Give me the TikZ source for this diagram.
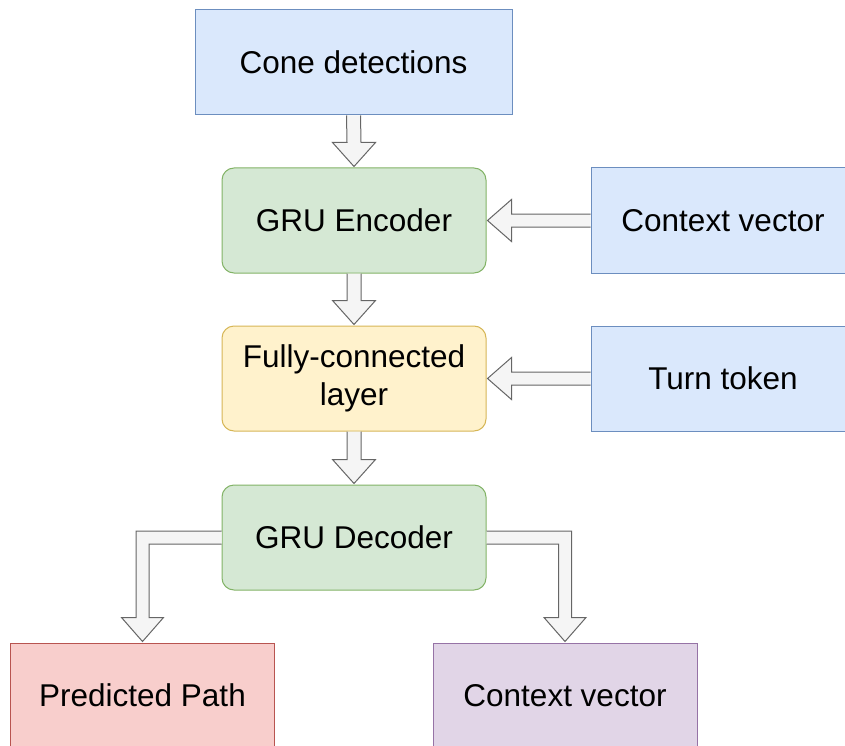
\documentclass[tikz,border=0pt]{standalone}
\usepackage{fontspec}
\setmainfont{Liberation Sans}
\usetikzlibrary{calc}
\definecolor{bluefill}{HTML}{DAE8FC}\definecolor{bluedraw}{HTML}{6C8EBF}
\definecolor{greenfill}{HTML}{D5E8D4}\definecolor{greendraw}{HTML}{82B366}
\definecolor{yellowfill}{HTML}{FFF2CC}\definecolor{yellowdraw}{HTML}{D6B656}
\definecolor{redfill}{HTML}{F8CECC}\definecolor{reddraw}{HTML}{B85450}
\definecolor{purplefill}{HTML}{E1D5E7}\definecolor{purpledraw}{HTML}{9673A6}
\definecolor{arrowfill}{HTML}{F5F5F5}\definecolor{arrowdraw}{HTML}{666666}
\tikzset{
  box/.style={rectangle, minimum width=264pt, minimum height=105pt, inner sep=0pt, line width=1pt,
    align=center, font=\fontsize{31.5}{37.5}\selectfont},
  bluebox/.style={box, fill=bluefill, draw=bluedraw},
  greenbox/.style={box, fill=greenfill, draw=greendraw, rounded corners=12pt},
  yellowbox/.style={box, fill=yellowfill, draw=yellowdraw, rounded corners=12pt},
  redbox/.style={box, fill=redfill, draw=reddraw},
  purplebox/.style={box, fill=purplefill, draw=purpledraw},
  flex/.style={fill=arrowfill, draw=arrowdraw, line width=1pt, line join=miter}
}
\begin{document}
\begin{tikzpicture}[x=1pt,y=-1pt]
\useasboundingbox (0,0) rectangle (845,746);
\clip (0,0) rectangle (845,746);
\node[bluebox, minimum width=317pt] (cone) at (353.5,62.5) {Cone detections};
\node[greenbox] (enc) at (354,220.5) {GRU Encoder};
\node[bluebox] (ctx) at (723,220.5) {Context vector};
\node[yellowbox] (fc) at (354,378.5) {Fully-connected\\layer};
\node[bluebox] (turn) at (723,378.5) {Turn token};
\node[greenbox] (dec) at (354,537.5) {GRU Decoder};
\node[redbox] (pred) at (142.5,695.5) {Predicted Path};
\node[purplebox] (ctxout) at (565,695.5) {Context vector};
% vertical arrows
\foreach \a/\b in {cone/enc, enc/fc, fc/dec}{
  \filldraw[flex] ($(\a.south)+(-7,0)$) -- ($(\b.north)+(-7,-25)$) -- ($(\b.north)+(-21.5,-25)$)
    -- ($(\b.north)+(0,-1)$) -- ($(\b.north)+(21.5,-25)$) -- ($(\b.north)+(7,-25)$) -- ($(\a.south)+(7,0)$);
}
% horizontal arrows
\foreach \a/\b in {ctx/enc, turn/fc}{
  \filldraw[flex] ($(\a.west)+(0,-6.5)$) -- ($(\b.east)+(25,-6.5)$) -- ($(\b.east)+(25,-21)$)
    -- ($(\b.east)+(1,0)$) -- ($(\b.east)+(25,21)$) -- ($(\b.east)+(25,6.5)$) -- ($(\a.west)+(0,6.5)$);
}
% bent arrows
\coordinate (dlt) at ($(dec.west)+(0,-6.5)$);
\coordinate (dlb) at ($(dec.west)+(0,6.5)$);
\coordinate (drt) at ($(dec.east)+(0,-6.5)$);
\coordinate (drb) at ($(dec.east)+(0,6.5)$);
\coordinate (plo) at ($(pred.north)+(-6.5,-25)$);
\coordinate (pli) at ($(pred.north)+(6.5,-25)$);
\coordinate (cro) at ($(ctxout.north)+(6.5,-25)$);
\coordinate (cri) at ($(ctxout.north)+(-6.5,-25)$);
\filldraw[flex] (dlt) -- (plo |- dlt) -- (plo) -- ($(pred.north)+(-21,-25)$) -- ($(pred.north)+(0,-1)$)
  -- ($(pred.north)+(21,-25)$) -- (pli) -- (pli |- dlb) -- (dlb);
\filldraw[flex] (drt) -- (cro |- drt) -- (cro) -- ($(ctxout.north)+(21,-25)$) -- ($(ctxout.north)+(0,-1)$)
  -- ($(ctxout.north)+(-21,-25)$) -- (cri) -- (cri |- drb) -- (drb);
\end{tikzpicture}
\end{document}
